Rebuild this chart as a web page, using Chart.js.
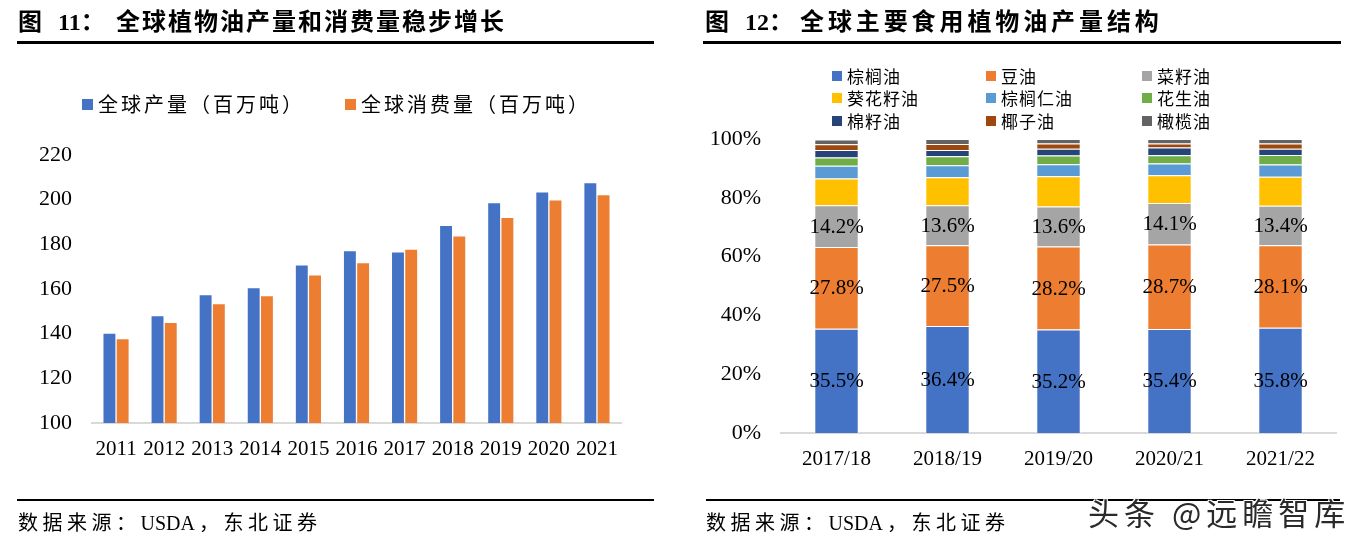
<!DOCTYPE html>
<html>
<head>
<meta charset="utf-8">
<script src="https://cdn.jsdelivr.net/npm/chart.js@4/dist/chart.umd.min.js"></script>
<style>
  body { margin: 0; background: #fff; width: 1354px; height: 545px; position: relative; overflow: hidden; }
  canvas { position: absolute; top: 0; }
  .cjk { font-family: "Noto Sans CJK SC", sans-serif; color: #000; position: absolute; white-space: nowrap; }
  .num { font-family: "Liberation Serif", serif; }
  .title { font-size: 24px; font-weight: bold; line-height: 30px; top: 5px; }
  .rule { position: absolute; background: #000; }
  .legend-box { position: absolute; }
  .legend-text { font-size: 20px; line-height: 24px; letter-spacing: 3px; }
  .legend2 { font-size: 17px; line-height: 20px; letter-spacing: 1px; }
  .source { font-size: 20px; line-height: 24px; top: 510px; letter-spacing: 4.5px; }
  .source .num { letter-spacing: 0; margin-right: 4px; }
  .mark { font-size: 31px; line-height: 36px; top: 494px; left: 1088px; color: #2a2a2a; letter-spacing: 5px;
          text-shadow: 1px 1px 0 #fff, -1px -1px 0 #fff, 1px -1px 0 #fff, -1px 1px 0 #fff; }
</style>
</head>
<body>
<canvas id="volumeChart" width="677" height="545" style="left:0"></canvas>
<canvas id="structureChart" width="677" height="545" style="left:677px"></canvas>

<div class="cjk title" style="left:18px">图</div>
<div class="cjk title num" style="left:58px">11<span class="cjk" style="position:static;font-family:'Noto Sans CJK SC'">：</span></div>
<div class="cjk title" style="left:116px;letter-spacing:2px">全球植物油产量和消费量稳步增长</div>
<div class="rule" style="left:17px;top:41px;width:637px;height:3px"></div>

<div class="cjk title" style="left:705px">图</div>
<div class="cjk title num" style="left:745px">12<span class="cjk" style="position:static;font-family:'Noto Sans CJK SC'">：</span></div>
<div class="cjk title" style="left:800px;letter-spacing:3.9px">全球主要食用植物油产量结构</div>
<div class="rule" style="left:703px;top:41px;width:638px;height:3px"></div>

<div id="legendLeft"></div>
<div id="legendRight"></div>

<div class="rule" style="left:17px;top:499px;width:637px;height:2px"></div>
<div class="rule" style="left:706px;top:499px;width:634px;height:2px"></div>
<div class="cjk source" style="left:18px">数据来源：<span class="num">USDA</span>，东北证券</div>
<div class="cjk source" style="left:706px">数据来源：<span class="num">USDA</span>，东北证券</div>
<div class="cjk mark">头条 @远瞻智库</div>

<script>
// left chart: global vegetable oil production / consumption, million tonnes
const years = ["2011", "2012", "2013", "2014", "2015", "2016", "2017", "2018", "2019", "2020", "2021"];
const production = [140.0, 147.8, 157.2, 160.3, 170.5, 176.9, 176.3, 188.2, 198.4, 203.2, 207.3];
const consumption = [137.5, 144.8, 153.2, 156.7, 166.1, 171.5, 177.6, 183.5, 191.8, 199.6, 202.0];
const volumeTicks = [100, 120, 140, 160, 180, 200, 220];

// right chart: share of main edible oils, %
const seasons = ["2017/18", "2018/19", "2019/20", "2020/21", "2021/22"];
const oilNames = ["棕榈油", "豆油", "菜籽油", "葵花籽油", "棕榈仁油", "花生油", "棉籽油", "椰子油", "橄榄油"];
const palmOil = [35.5, 36.4, 35.2, 35.4, 35.8];
const soyOil = [27.8, 27.5, 28.2, 28.7, 28.1];
const rapeseedOil = [14.2, 13.6, 13.6, 14.1, 13.4];
const sunflowerOil = [9.1, 9.5, 10.3, 9.5, 9.9];
const palmKernelOil = [4.3, 4.1, 4.1, 4.0, 4.1];
const peanutOil = [2.8, 3.0, 3.0, 2.8, 3.3];
const cottonseedOil = [2.6, 2.2, 2.3, 2.6, 2.1];
const coconutOil = [1.9, 2.0, 1.8, 1.4, 1.8];
const oliveOil = [1.6, 1.7, 1.5, 1.5, 1.5];
const shareTicks = [0, 20, 40, 60, 80, 100];

const oilColors = ["#4472C4", "#ED7D31", "#A5A5A5", "#FFC000", "#5B9BD5", "#70AD47", "#264478", "#9E480E", "#636363"];
const oilSeries = [palmOil, soyOil, rapeseedOil, sunflowerOil, palmKernelOil, peanutOil, cottonseedOil, coconutOil, oliveOil];

const tickFont = { family: "Liberation Serif", size: 21 };

function buildLegend(container, items, opts) {
  container.innerHTML = items.map((it) =>
    `<div class="legend-box" style="left:${it.x}px;top:${it.y - opts.box / 2}px;width:${opts.box}px;height:${opts.box}px;background:${it.color}"></div>` +
    `<div class="cjk ${opts.cls}" style="left:${it.x + opts.gap}px;top:${it.y - opts.lh / 2}px">${it.label}</div>`
  ).join("");
}

const segmentLabels = {
  id: "segmentLabels",
  afterDatasetsDraw(chart) {
    const ctx = chart.ctx;
    ctx.save();
    ctx.font = "21px 'Liberation Serif'";
    ctx.fillStyle = "#000";
    ctx.textAlign = "center";
    ctx.textBaseline = "middle";
    chart.data.datasets.forEach((ds, di) => {
      if (!ds.showValue) return;
      chart.getDatasetMeta(di).data.forEach((bar, i) => {
        const p = bar.getProps(["x", "y", "base"], true);
        ctx.fillText(ds.data[i].toFixed(1) + "%", p.x, (p.y + p.base) / 2 + 1);
      });
    });
    ctx.restore();
  }
};

const volumeChart = new Chart(document.getElementById("volumeChart"), {
  type: "bar",
  data: {
    labels: years,
    datasets: [
      { label: "全球产量（百万吨）", data: production, backgroundColor: "#4472C4" },
      { label: "全球消费量（百万吨）", data: consumption, backgroundColor: "#ED7D31" }
    ]
  },
  options: {
    responsive: false,
    animation: false,
    layout: { padding: { left: 0, right: 56, top: 155, bottom: 72 } },
    plugins: { legend: { display: false }, tooltip: { enabled: false } },
    datasets: { bar: { categoryPercentage: 0.55, barPercentage: 0.9 } },
    scales: {
      x: {
        grid: { display: false, drawTicks: false },
        border: { display: true, color: "#D9D9D9", width: 2 },
        ticks: { color: "#000", font: tickFont, padding: 14, maxRotation: 0, autoSkip: false },
        afterFit: (s) => { s.height = 50; }
      },
      y: {
        min: volumeTicks[0],
        max: volumeTicks[volumeTicks.length - 1],
        afterBuildTicks: (s) => { s.ticks = volumeTicks.map((v) => ({ value: v })); },
        grid: { display: false, drawTicks: false },
        border: { display: false },
        ticks: { color: "#000", font: { family: "Liberation Serif", size: 22 }, padding: 20 },
        afterFit: (s) => { s.width = 92; }
      }
    }
  }
});

const structureChart = new Chart(document.getElementById("structureChart"), {
  type: "bar",
  data: {
    labels: seasons,
    datasets: oilNames.map((name, i) => ({
      label: name,
      data: oilSeries[i],
      backgroundColor: oilColors[i],
      borderColor: "rgba(255,255,255,0.7)",
      borderWidth: 1,
      showValue: i < 3
    }))
  },
  options: {
    responsive: false,
    animation: false,
    layout: { padding: { left: 0, right: 18, top: 139, bottom: 62 } },
    plugins: { legend: { display: false }, tooltip: { enabled: false } },
    datasets: { bar: { categoryPercentage: 1, barPercentage: 0.4 } },
    scales: {
      x: {
        stacked: true,
        grid: { display: false, drawTicks: false },
        border: { display: true, color: "#D9D9D9", width: 2 },
        ticks: { color: "#000", font: { family: "Liberation Serif", size: 21 }, padding: 14, maxRotation: 0 },
        afterFit: (s) => { s.height = 50; }
      },
      y: {
        stacked: true,
        min: 0,
        max: 100,
        afterBuildTicks: (s) => { s.ticks = shareTicks.map((v) => ({ value: v })); },
        grid: { display: false, drawTicks: false },
        border: { display: false },
        ticks: { color: "#000", font: { family: "Liberation Serif", size: 22 }, padding: 20, callback: (v) => v + "%" },
        afterFit: (s) => { s.width = 104; }
      }
    }
  },
  plugins: [segmentLabels]
});

buildLegend(document.getElementById("legendLeft"), [
  { x: 82, y: 104, color: "#4472C4", label: volumeChart.data.datasets[0].label },
  { x: 345, y: 104, color: "#ED7D31", label: volumeChart.data.datasets[1].label }
], { box: 11, gap: 16, lh: 24, cls: "legend-text" });

const legendCols = [832, 986, 1142];
const legendRows = [76, 98, 121];
buildLegend(document.getElementById("legendRight"), oilNames.map((name, i) => ({
  x: legendCols[i % 3],
  y: legendRows[Math.floor(i / 3)],
  color: oilColors[i],
  label: name
})), { box: 10, gap: 15, lh: 20, cls: "legend2" });
</script>
</body>
</html>
